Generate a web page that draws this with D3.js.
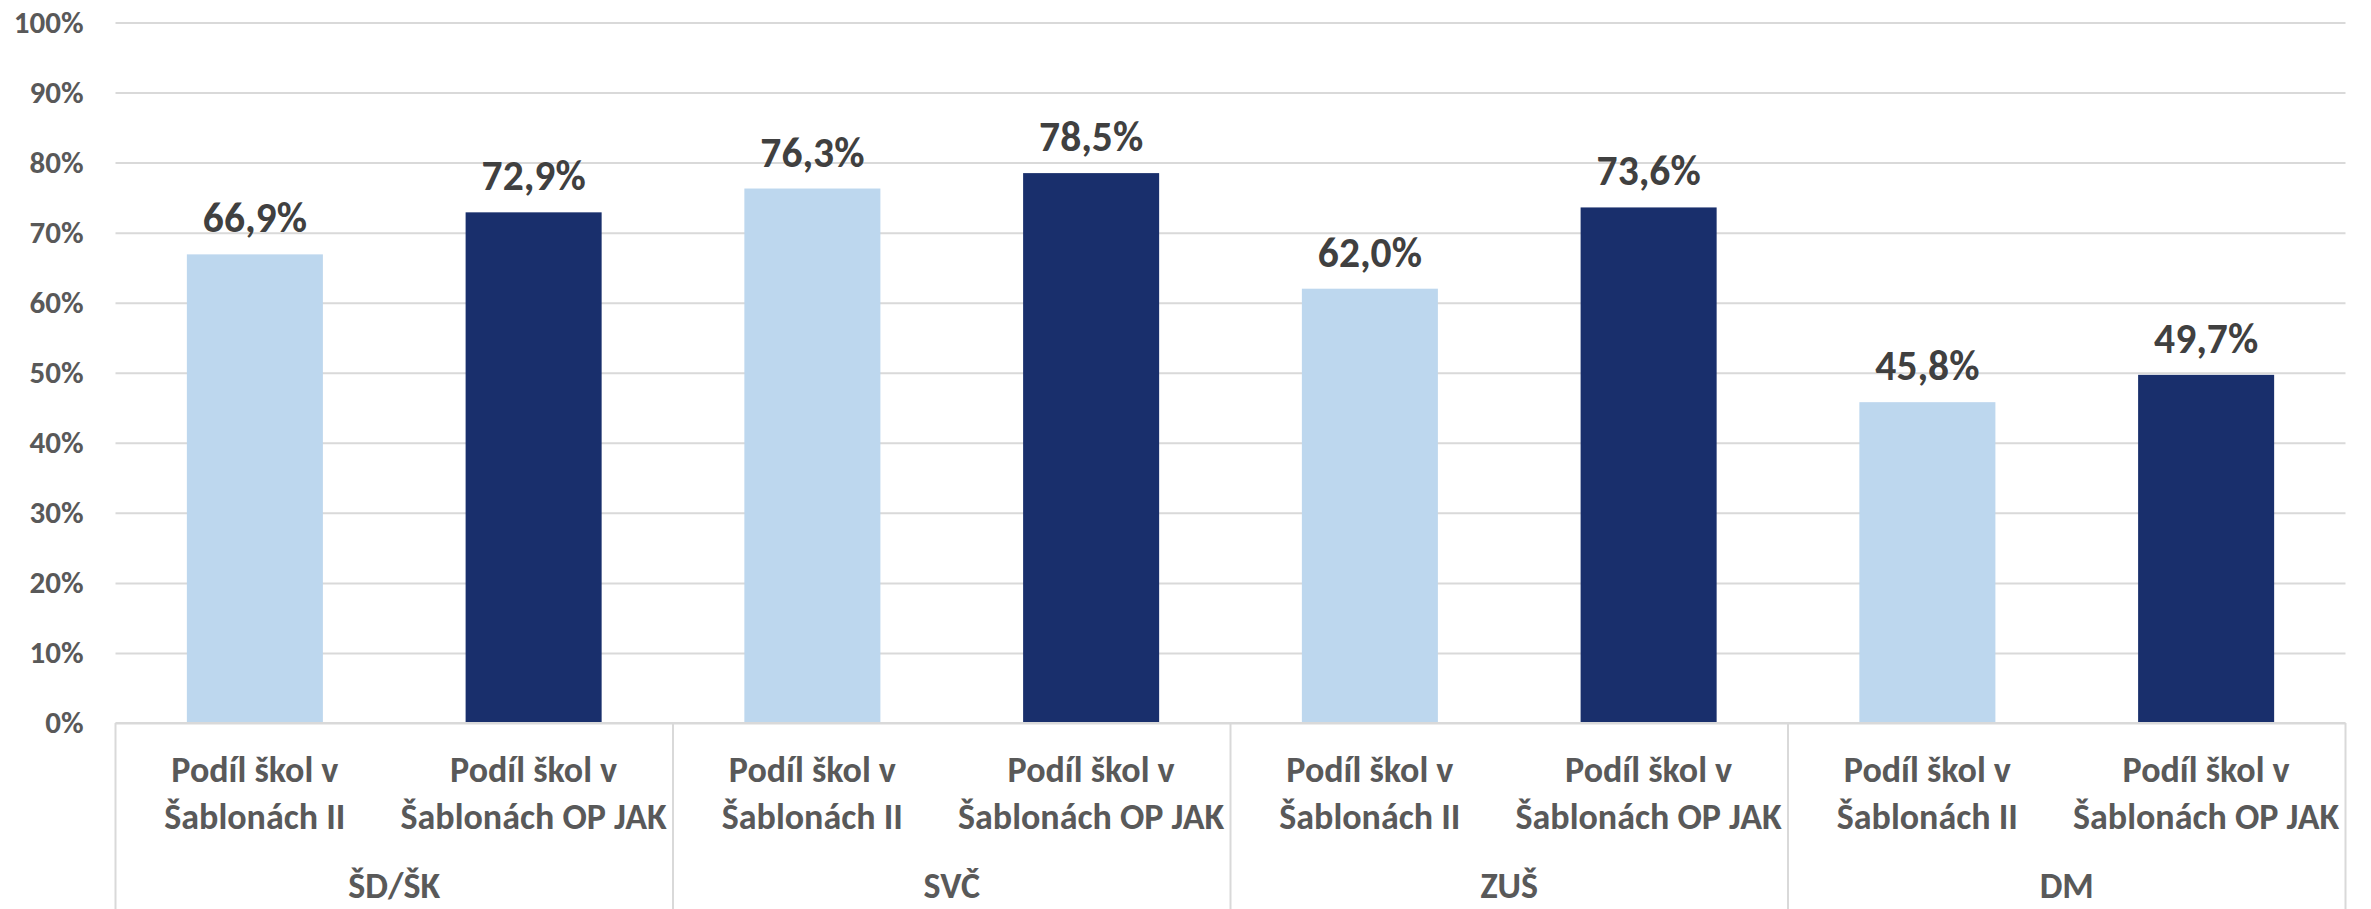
<!DOCTYPE html>
<html>
<head>
<meta charset="utf-8">
<script src="https://cdn.jsdelivr.net/npm/d3@7"></script>
<style>
  body { margin: 0; background: #fff; }
  svg { display: block; font-family: Carlito, Calibri, Lato, sans-serif; font-weight: bold; }
</style>
</head>
<body>
<svg id="chart" width="2371" height="909"></svg>
<script>
// groups along the x axis
const groups = ['ŠD/ŠK', 'SVČ', 'ZUŠ', 'DM']
// series, label lines as shown under each bar
const seriesLines = [
  ['Podíl škol v', 'Šablonách II'],
  ['Podíl škol v', 'Šablonách OP JAK']
]
const seriesColors = ['#BDD7EE', '#192F6C']
// shares per group, first = Šablony II, second = Šablony OP JAK
const sablonyII = [0.669, 0.763, 0.620, 0.458]
const sablonyOPJAK = [0.729, 0.785, 0.736, 0.497]
const yTicks = [0, 0.1, 0.2, 0.3, 0.4, 0.5, 0.6, 0.7, 0.8, 0.9, 1]

const margin = { top: 22.5, left: 115.5, right: 25.5, bottom: 186 }
const W = 2371
const H = 909
const width = W - margin.left - margin.right
const height = H - margin.top - margin.bottom

const svg = d3.select('#chart')
const g = svg.append('g').attr('transform', `translate(${margin.left},${margin.top})`)

// flat rows, one per bar
const rows = []
groups.forEach((grp, gi) => {
  [sablonyII[gi], sablonyOPJAK[gi]].forEach((v, si) => {
    rows.push({ key: grp + '|' + si, group: grp, gi: gi, si: si, value: v })
  })
})

const x = d3.scaleBand()
  .domain(rows.map(d => d.key))
  .range([0, width])
  .paddingInner(0.512)
  .paddingOuter(0.256)

const y = d3.scaleLinear().domain([0, 1]).range([height, 0])

const cz = d3.formatLocale({ decimal: ',', thousands: ' ', grouping: [3], currency: ['', ''] })

// gridlines + tick labels
const yAxis = g.append('g')
  .call(d3.axisLeft(y).tickValues(yTicks).tickFormat(d3.format('.0%')).tickSize(-width).tickPadding(32))
yAxis.attr('font-family', null).attr('font-size', null)
yAxis.select('.domain').remove()
yAxis.selectAll('.tick line').attr('stroke', '#d9d9d9').attr('stroke-width', 2)
yAxis.selectAll('.tick text')
  .attr('fill', '#595959')
  .style('font-size', '31px')
  .style('font-weight', 'bold')

// bars
g.selectAll('rect.bar')
  .data(rows)
  .enter()
  .append('rect')
  .attr('class', 'bar')
  .attr('x', d => x(d.key))
  .attr('y', d => y(d.value))
  .attr('width', x.bandwidth())
  .attr('height', d => y(0) - y(d.value))
  .attr('fill', d => seriesColors[d.si])

// value labels
g.selectAll('text.val')
  .data(rows)
  .enter()
  .append('text')
  .attr('class', 'val')
  .attr('x', d => x(d.key) + x.bandwidth() / 2)
  .attr('y', d => y(d.value) - 22)
  .attr('text-anchor', 'middle')
  .attr('fill', '#404040')
  .style('font-size', '41.5px')
  .text(d => cz.format('.1%')(d.value))

// baseline of the category axis
g.append('line')
  .attr('x1', 0).attr('x2', width)
  .attr('y1', y(0)).attr('y2', y(0))
  .attr('stroke', '#d9d9d9').attr('stroke-width', 2)

// group separators
const groupWidth = width / groups.length
d3.range(groups.length + 1).forEach(i => {
  g.append('line')
    .attr('x1', i * groupWidth).attr('x2', i * groupWidth)
    .attr('y1', y(0)).attr('y2', H - margin.top)
    .attr('stroke', '#d9d9d9').attr('stroke-width', 2)
})

// bar category labels
const catLabels = g.selectAll('text.cat')
  .data(rows)
  .enter()
  .append('text')
  .attr('class', 'cat')
  .attr('text-anchor', 'middle')
  .attr('fill', '#595959')
  .style('font-size', '36px')
catLabels.selectAll('tspan')
  .data(d => seriesLines[d.si].map(t => ({ t: t, cx: x(d.key) + x.bandwidth() / 2 })))
  .enter()
  .append('tspan')
  .attr('x', d => d.cx)
  .attr('y', (d, i) => y(0) + 59 + i * 46.5)
  .text(d => d.t)

// group labels
g.selectAll('text.grp')
  .data(groups)
  .enter()
  .append('text')
  .attr('class', 'grp')
  .attr('x', (d, i) => (i + 0.5) * groupWidth)
  .attr('y', y(0) + 175)
  .attr('text-anchor', 'middle')
  .attr('fill', '#595959')
  .style('font-size', '36px')
  .text(d => d)
</script>
</body>
</html>
